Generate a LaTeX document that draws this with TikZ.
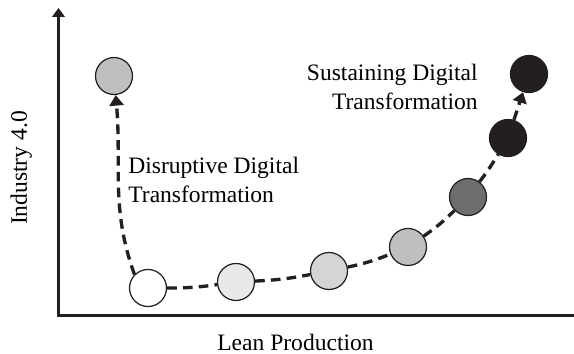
\documentclass[tikz,border=0pt]{standalone}
\usepackage{fontspec}
\setmainfont{Liberation Serif}
\usepackage{tkz-euclide}
\usetikzlibrary{arrows.meta}
\definecolor{ink}{HTML}{231F20}
\definecolor{midgray}{HTML}{BEBFC1}
\definecolor{palegray}{HTML}{E8E8E9}
\definecolor{lightgray}{HTML}{D5D5D7}
\definecolor{darkgray}{HTML}{6D6E70}

\begin{document}
\begin{tikzpicture}[
  stage/.style = {circle, draw = ink, line width = .7pt,
                  minimum size = .74cm, inner sep = 0pt},
  flow/.style  = {ink, line width = 1.9pt,
                  dash pattern = on 5.5pt off 3.5pt,
                  -{Triangle[width = 8pt, length = 6pt]}},
  label/.style = {font = \fontsize{13.4}{16.5}\selectfont, inner sep = 0pt}]
\useasboundingbox (0,0) rectangle (11.48,7.06);
\tkzDefPoint(1.17,0.75){O}
\tkzDefPoint(1.17,6.90){Y}
\tkzDefPoint(11.48,0.75){X}
\draw[ink, line width = 1.7pt,
  -{Triangle[width = 7pt, length = 5pt]}] (X) -- (O) -- (Y);
% stages
\node[stage, fill = midgray]   (A) at (2.28,5.54) {};
\node[stage, fill = white]     (B) at (2.96,1.30) {};
\node[stage, fill = palegray]  (C) at (4.72,1.42) {};
\node[stage, fill = lightgray] (D) at (6.58,1.64) {};
\node[stage, fill = midgray]   (E) at (8.16,2.12) {};
\node[stage, fill = darkgray]  (F) at (9.36,3.12) {};
\node[stage, fill = ink]       (G) at (10.16,4.30) {};
\node[stage, fill = ink]       (H) at (10.58,5.58) {};
% paths
\draw[flow] (B.135) to[out = 110, in = -85] (A);
\draw[flow, -] (B) to[bend right = 4] (C);
\draw[flow, -] (C) to[bend right = 4] (D);
\draw[flow, -] (D) to[bend right = 5] (E);
\draw[flow, -] (E) to[bend right = 5] (F);
\draw[flow, -] (F) to[bend right = 3] (G);
\draw[flow] (G) -- (H);
% labels
\node[label, anchor = north west, align = left] (dis) at (2.56,3.92)
  {Disruptive Digital\\Transformation};
\node[label, anchor = north east, align = right] (sus) at (9.56,5.78)
  {Sustaining Digital\\Transformation};
\node[label, anchor = base, rotate = 90] (ind) at (0.54,3.70) {Industry 4.0};
\node[label, anchor = base] (lean) at (5.91,0.05) {Lean Production};
\end{tikzpicture}
\end{document}
